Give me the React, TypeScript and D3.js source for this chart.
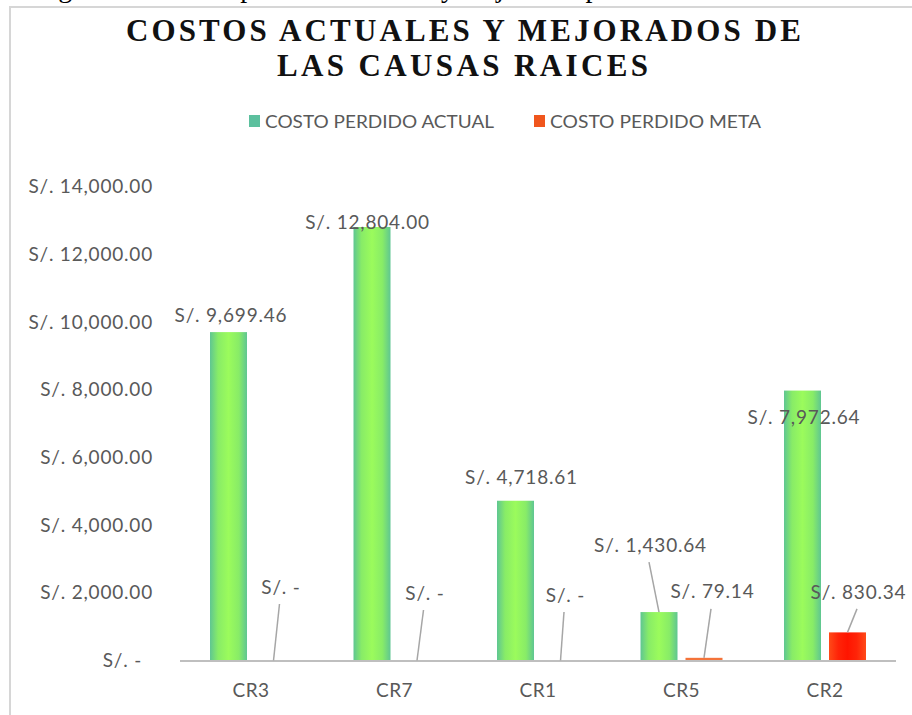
import React, { useEffect, useRef } from "react";
import * as d3 from "d3";

const categories = ["CR3", "CR7", "CR1", "CR5", "CR2"];
const costoActual = [9699.46, 12804.0, 4718.61, 1430.64, 7972.64];
const costoMeta = [0, 0, 0, 79.14, 830.34];
const seriesNames = ["COSTO PERDIDO ACTUAL", "COSTO PERDIDO META"];
const yTicks = [0, 2000, 4000, 6000, 8000, 10000, 12000, 14000];

// label placement (dx from bar center, dy from bar top), as moved in the original
const actualLabelOffsets = [[2.5, -17], [-4.5, -5], [6, -23.5], [-8.5, -67], [1.5, 26.5]];
const metaLabelOffsets = [[7.5, -73.5], [8, -67.5], [5, -65.5], [8.5, -66], [11, -40.5]];
const actualLeader = [false, false, false, true, false];

const money = (v: number) =>
  v === 0 ? "S/. -" : "S/. " + d3.format(",.2f")(v);

function App() {
  const ref = useRef<SVGSVGElement>(null);

  useEffect(() => {
    const svg = d3.select(ref.current);
    svg.selectAll("*").remove();

    const labelFont = "Lato, 'Open Sans', sans-serif";
    const gray = "#595959";

    const defs = svg.append("defs");
    const gGreen = defs.append("linearGradient").attr("id", "gGreen");
    [["0%", "#5fc692"], ["22%", "#88ec67"], ["50%", "#9bfb5c"], ["78%", "#88ec67"], ["100%", "#5fc692"]].forEach(
      ([o, c]) => gGreen.append("stop").attr("offset", o).attr("stop-color", c)
    );
    const gRed = defs.append("linearGradient").attr("id", "gRed");
    [["0%", "#ff4a18"], ["25%", "#ff2408"], ["50%", "#ff1500"], ["75%", "#ff2408"], ["100%", "#ff4a18"]].forEach(
      ([o, c]) => gRed.append("stop").attr("offset", o).attr("stop-color", c)
    );

    // caption of the page, cut by the top edge
    svg
      .append("text")
      .attr("x", 35)
      .attr("y", -3)
      .attr("font-family", "'Liberation Serif', serif")
      .attr("font-size", 28)
      .attr("fill", "#000")
      .text("Figura 18. Costos perdidos actuales y mejorados por causas raíces");

    // chart frame
    svg
      .append("rect")
      .attr("x", 10)
      .attr("y", 7)
      .attr("width", 940)
      .attr("height", 740)
      .attr("fill", "#fff")
      .attr("stroke", "#d6d6d6")
      .attr("stroke-width", 2);

    // title
    const title = svg
      .append("g")
      .attr("font-family", "'Liberation Serif', 'Times New Roman', serif")
      .attr("font-weight", "bold")
      .attr("font-size", 31)
      .attr("fill", "#111")
      .attr("text-anchor", "middle");
    title
      .append("text")
      .attr("x", 463.5)
      .attr("y", 41)
      .attr("textLength", 675)
      .attr("lengthAdjust", "spacing")
      .text("COSTOS ACTUALES Y MEJORADOS DE");
    title
      .append("text")
      .attr("x", 462.5)
      .attr("y", 76)
      .attr("textLength", 371)
      .attr("lengthAdjust", "spacing")
      .text("LAS CAUSAS RAICES");

    // legend
    const legendColors = ["#5cc09e", "#f0561d"];
    const legendX = [249, 534];
    const legend = svg.append("g").attr("font-family", labelFont).attr("font-size", 18).attr("fill", gray);
    seriesNames.forEach((name, i) => {
      legend
        .append("rect")
        .attr("x", legendX[i])
        .attr("y", 115)
        .attr("width", 11)
        .attr("height", 12)
        .attr("fill", legendColors[i]);
      legend
        .append("text")
        .attr("x", legendX[i] + 16)
        .attr("y", 127.5)
        .attr("textLength", i === 0 ? 229 : 211)
        .attr("lengthAdjust", "spacingAndGlyphs")
        .text(name);
    });

    // scales
    const x0 = d3.scaleBand<string>().domain(categories).range([179.25, 896.75]).padding(0);
    const x1 = d3
      .scaleBand<string>()
      .domain(["actual", "meta"])
      .range([30.75, x0.bandwidth() - 30.75])
      .paddingInner(8 / 45);
    const y = d3.scaleLinear().domain([0, 14000]).range([660.5, 186.5]);

    // y tick labels
    const yAxis = svg.append("g").attr("font-family", labelFont).attr("font-size", 19).attr("fill", gray);
    yTicks.forEach((t) => {
      yAxis
        .append("text")
        .attr("x", t === 0 ? 142 : 153)
        .attr("y", y(t))
        .attr("dy", "0.35em")
        .attr("text-anchor", "end")
        .attr("letter-spacing", 0.8)
        .text(money(t));
    });

    // bars
    const bars = svg.append("g");
    categories.forEach((c, i) => {
      const xa = x0(c)! + x1("actual")!;
      const xm = x0(c)! + x1("meta")!;
      bars
        .append("rect")
        .attr("x", xa)
        .attr("y", y(costoActual[i]))
        .attr("width", x1.bandwidth())
        .attr("height", y(0) - y(costoActual[i]))
        .attr("fill", "url(#gGreen)");
      if (costoMeta[i] > 0) {
        bars
          .append("rect")
          .attr("x", xm)
          .attr("y", y(costoMeta[i]))
          .attr("width", x1.bandwidth())
          .attr("height", y(0) - y(costoMeta[i]))
          .attr("fill", costoMeta[i] < 200 ? "#f4733a" : "url(#gRed)");
      }
    });

    // category axis
    svg
      .append("line")
      .attr("x1", 180)
      .attr("x2", 896)
      .attr("y1", y(0) + 0.5)
      .attr("y2", y(0) + 0.5)
      .attr("stroke", "#bfbfbf")
      .attr("stroke-width", 2);
    const xAxis = svg.append("g").attr("font-family", labelFont).attr("font-size", 19).attr("fill", gray);
    categories.forEach((c) => {
      xAxis
        .append("text")
        .attr("x", x0(c)! + x0.bandwidth() / 2)
        .attr("y", 690)
        .attr("dy", "0.35em")
        .attr("text-anchor", "middle")
        .attr("letter-spacing", 0.5)
        .text(c);
    });

    // data labels with leader lines
    const labels = svg.append("g").attr("font-family", labelFont).attr("font-size", 19).attr("fill", gray);
    const leaders = svg.append("g").attr("stroke", "#a6a6a6").attr("stroke-width", 1.5);
    const addLabel = (cx: number, top: number, v: number, off: number[], leader: boolean) => {
      const lx = cx + off[0];
      const ly = top + off[1];
      labels
        .append("text")
        .attr("x", lx)
        .attr("y", ly)
        .attr("dy", "0.35em")
        .attr("text-anchor", "middle")
        .attr("letter-spacing", 0.8)
        .text(money(v));
      if (leader) {
        leaders
          .append("line")
          .attr("x1", lx - 1.5)
          .attr("y1", ly + 17)
          .attr("x2", cx)
          .attr("y2", top);
      }
    };
    categories.forEach((c, i) => {
      const ca = x0(c)! + x1("actual")! + x1.bandwidth() / 2;
      const cm = x0(c)! + x1("meta")! + x1.bandwidth() / 2;
      addLabel(ca, y(costoActual[i]), costoActual[i], actualLabelOffsets[i], actualLeader[i]);
      addLabel(cm, y(costoMeta[i]), costoMeta[i], metaLabelOffsets[i], true);
    });
  }, []);

  return (
    <svg
      ref={ref}
      width={912}
      height={715}
      style={{ position: "absolute", left: 0, top: 0, background: "#fff" }}
    ></svg>
  );
}

export default App;
